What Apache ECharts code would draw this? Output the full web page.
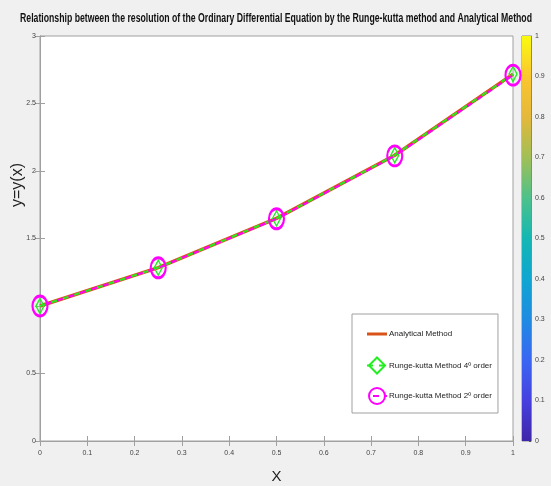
<!DOCTYPE html>
<html><head><meta charset="utf-8">
<script src="https://cdn.jsdelivr.net/npm/echarts@6/dist/echarts.min.js"></script>
<style>html,body{margin:0;padding:0;background:#f0f0f0}#c{width:551px;height:486px}</style>
</head><body><div id="c"></div>
<script>
var xValues = [0, 0.25, 0.5, 0.75, 1];
var analytical = [1.00, 1.284, 1.649, 2.117, 2.718];
var rk4 = [1.00, 1.284, 1.649, 2.117, 2.718];
var rk2 = [1.00, 1.283, 1.646, 2.112, 2.710];
var seriesNames = ['Analytical Method', 'Runge-kutta Method 4º order', 'Runge-kutta Method 2º order'];
var titleText = 'Relationship between the resolution of the Ordinary Differential Equation by the Runge-kutta method and Analytical Method';
var xName = 'X';
var yName = 'y=y(x)';
var colorbarStops = ['#3e26a8','#4640df','#3a66f2','#1f8be2','#0fa6d1','#14b7b3','#4ec18b','#a1bf56','#e4b83b','#fbc62f','#f9fb0e'];

var font = '"Liberation Sans",Arial,sans-serif';
function pairs(ys){ return xValues.map(function(x,i){return [x, ys[i]];}); }
var titleFont = 'bold 12.5px "Liberation Sans",Arial,sans-serif';
var cv = document.createElement('canvas').getContext('2d');
cv.font = titleFont;
var titleScale = 512 / cv.measureText(titleText).width;

var axisGray = '#a0a0a0';
var chart = echarts.init(document.getElementById('c'));
chart.setOption({
  backgroundColor: '#f0f0f0',
  animation: false,
  graphic: [
    {type: 'text', x: 276, y: 19, scaleX: titleScale, scaleY: 1,
      style: {text: titleText, font: titleFont, fill: '#111', align: 'center', verticalAlign: 'middle'}},
    {type: 'text', x: 18, y: 185, rotation: Math.PI / 2,
      style: {text: yName, font: '16px "Liberation Sans",Arial,sans-serif', fill: '#222', align: 'center', verticalAlign: 'middle'}}
  ],
  grid: [
    {left: 40, top: 36, width: 473, height: 405, show: true, backgroundColor: '#fff', borderColor: axisGray, borderWidth: 1, outerBoundsMode: 'none', containLabel: false},
    {left: 522, top: 36, width: 9, height: 405, show: true, borderColor: '#888', borderWidth: 1, outerBoundsMode: 'none', containLabel: false}
  ],
  xAxis: [
    {type: 'value', gridIndex: 0, min: 0, max: 1, interval: 0.1, position: 'bottom',
      name: xName, nameLocation: 'middle', nameGap: 28, nameTextStyle: {fontFamily: font, fontSize: 15, color: '#222'},
      axisLine: {lineStyle: {color: axisGray}}, axisTick: {inside: true, length: 5, lineStyle: {color: axisGray}},
      axisLabel: {fontFamily: font, fontSize: 7, color: '#444', margin: 9}, splitLine: {show: false}},
    {type: 'value', gridIndex: 0, min: 0, max: 1, interval: 0.1, position: 'top',
      axisLine: {lineStyle: {color: axisGray}}, axisTick: {inside: true, length: 5, lineStyle: {color: axisGray}},
      axisLabel: {show: false}, splitLine: {show: false}},
    {type: 'category', gridIndex: 1, data: ['c'], show: false}
  ],
  yAxis: [
    {type: 'value', gridIndex: 0, min: 0, max: 3, interval: 0.5, position: 'left',
      axisLine: {show: true, lineStyle: {color: axisGray}}, axisTick: {show: true, inside: true, length: 5, lineStyle: {color: axisGray}},
      axisLabel: {fontFamily: font, fontSize: 7, color: '#444', margin: 4,
        formatter: function(v){ return v === 1 ? '' : String(v); }}, splitLine: {show: false}},
    {type: 'value', gridIndex: 0, min: 0, max: 3, interval: 0.5, position: 'right',
      axisLine: {show: true, lineStyle: {color: axisGray}}, axisTick: {show: true, inside: true, length: 5, lineStyle: {color: axisGray}},
      axisLabel: {show: false}, splitLine: {show: false}},
    {type: 'value', gridIndex: 1, min: 0, max: 1, interval: 0.1, position: 'right',
      axisLine: {show: true, lineStyle: {color: '#888'}}, axisTick: {show: true, inside: true, length: 2, lineStyle: {color: '#555'}},
      axisLabel: {fontFamily: font, fontSize: 7, color: '#444', margin: 4}, splitLine: {show: false}}
  ],
  legend: {
    orient: 'vertical', left: 352, top: 314,
    padding: [10, 6, 8, 14], itemGap: 12.5, itemWidth: 20, itemHeight: 20,
    backgroundColor: '#fff', borderColor: '#a0a0a0', borderWidth: 1,
    textStyle: {fontFamily: font, fontSize: 8, color: '#222', padding: [0, 12, 0, -3]},
    data: [
      {name: seriesNames[0], icon: 'path://M0,0M0,20M0,8.5H20V11.5H0Z'},
      {name: seriesNames[1]},
      {name: seriesNames[2]}
    ]
  },
  series: [
    {name: seriesNames[0], type: 'line', xAxisIndex: 0, yAxisIndex: 0, data: pairs(analytical),
      symbol: 'none', clip: false, lineStyle: {color: '#d95319', width: 3.5}, itemStyle: {color: '#d95319'}, z: 2},
    {name: seriesNames[1], type: 'line', xAxisIndex: 0, yAxisIndex: 0, data: pairs(rk4),
      symbol: 'diamond', symbolSize: [8, 15], clip: false,
      lineStyle: {color: '#22ee22', width: 2, type: [6, 6]},
      itemStyle: {color: 'rgba(0,0,0,0)', borderColor: '#22ee22', borderWidth: 1.5}, z: 3},
    {name: seriesNames[2], type: 'line', xAxisIndex: 0, yAxisIndex: 0, data: pairs(rk2),
      symbol: 'circle', symbolSize: [15, 20], clip: false,
      lineStyle: {color: '#ff00ff', width: 2, type: [6, 6], dashOffset: 6},
      itemStyle: {color: 'rgba(0,0,0,0)', borderColor: '#ff00ff', borderWidth: 2.5}, z: 4},
    {type: 'bar', xAxisIndex: 2, yAxisIndex: 2, data: [1], barWidth: '100%', silent: true,
      itemStyle: {color: new echarts.graphic.LinearGradient(0, 1, 0, 0,
        colorbarStops.map(function(c, i){ return {offset: i / (colorbarStops.length - 1), color: c}; }))}}
  ]
});
</script></body></html>
